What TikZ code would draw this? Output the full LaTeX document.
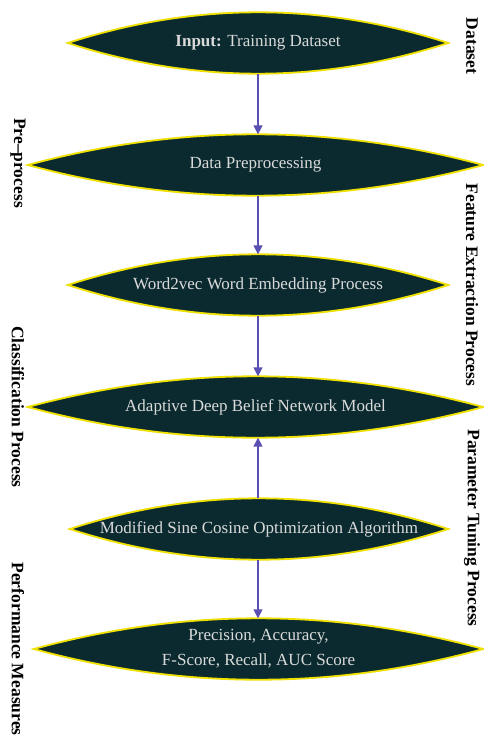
\documentclass[tikz,border=0pt]{standalone}
\usepackage{fontspec}
\setmainfont{Liberation Serif}
\usetikzlibrary{arrows.meta,calc,backgrounds}
\definecolor{lensfill}{HTML}{0A2A2F}
\definecolor{lensedge}{HTML}{F0E000}
\definecolor{lenstext}{HTML}{DADADA}
\definecolor{arrowc}{HTML}{5A50B4}
\begin{document}
\begin{tikzpicture}[x=1pt,y=-1pt,
  stage/.style={inner sep=0pt, text=lenstext, font=\fontsize{17}{25}\selectfont,
    align=center, minimum width=#1, minimum height=61pt},
  lens/.style={fill=lensfill, draw=lensedge, line width=1.8pt},
  flow/.style={draw=arrowc, line width=1.6pt, -{Triangle[length=9pt,width=9pt]}},
  side/.style={rotate=-90, font=\bfseries\fontsize{17.5}{20}\selectfont, text=black, inner sep=0pt}]
\useasboundingbox (0,0) rectangle (483,735);

\node[stage=380pt] (s1) at (258,43) {\textbf{Input:} Training Dataset};
\node[stage=455pt] (s2) at (255.5,165) {Data Preprocessing};
\node[stage=380pt] (s3) at (258,285) {Word2vec Word Embedding Process};
\node[stage=455pt] (s4) at (255.5,407) {Adaptive Deep Belief Network Model};
\node[stage=378pt] (s5) at (259,529) {Modified Sine Cosine Optimization Algorithm};
\node[stage=449pt] (s6) at (258.5,649) {Precision, Accuracy,\\F-Score, Recall, AUC Score};

\begin{scope}[on background layer]
\fill[white] (0,0) rectangle (483,735);
\foreach \s in {s1,s2,s3,s4,s5,s6}{
  \path[lens] let \p1=(\s.west), \p2=(\s.east), \p3=(\s.north), \p4=(\s.south) in
    (\p1) .. controls ({\x1+(\x2-\x1)/3}, {\y1+4/3*(\y3-\y1)}) and ({\x2-(\x2-\x1)/3}, {\y1+4/3*(\y3-\y1)}) .. (\p2)
    .. controls ({\x2-(\x2-\x1)/3}, {\y1+4/3*(\y4-\y1)}) and ({\x1+(\x2-\x1)/3}, {\y1+4/3*(\y4-\y1)}) .. cycle;
}
\end{scope}

\draw[flow] (s1.south) -- (s1.south |- s2.north);
\draw[flow] (s2.south -| s1) -- (s1 |- s3.north);
\draw[flow] (s3.south) -- (s3.south |- s4.north);
\draw[flow] (s5.north -| s1) -- (s1 |- s4.south);
\draw[flow] (s5.south -| s1) -- (s1 |- s6.north);

\node[side] (lpre) at (18,163) {Pre--process};
\node[side] (lcls) at (18,407) {Classification Process};
\node[side] (lperf) at (18,649) {Performance Measures};
\node[side] (rdata) at (472,46) {Dataset};
\node[side] (rfeat) at (472,285) {Feature Extraction Process};
\node[side] (rpar) at (472,528) {Parameter Tuning Process};
\end{tikzpicture}
\end{document}
